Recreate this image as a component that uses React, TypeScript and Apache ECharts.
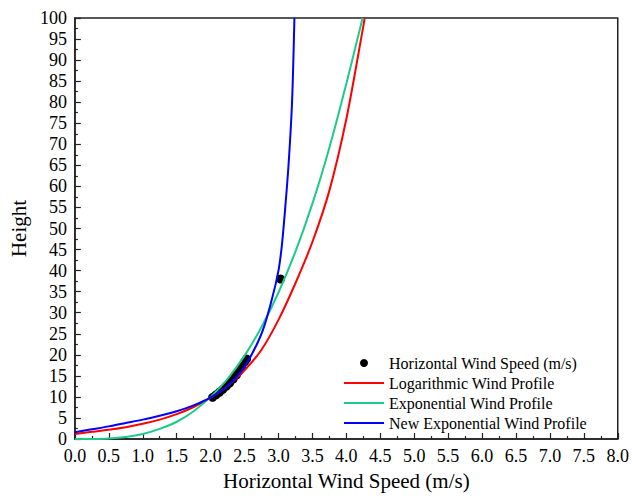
import React, { useEffect, useRef } from "react";
import * as echarts from "echarts";

const xTicks = [0, 0.5, 1, 1.5, 2, 2.5, 3, 3.5, 4, 4.5, 5, 5.5, 6, 6.5, 7, 7.5, 8];

const measuredX = [2.03, 2.08, 2.13, 2.18, 2.23, 2.28, 2.33, 2.38, 2.42, 2.46, 2.5, 2.53, 3.03];
const measuredH = [9.9, 10.5, 11.1, 11.8, 12.5, 13.3, 14.2, 15.2, 16.2, 17.2, 18.3, 19.0, 38.0];

const logX = [0, 0.25, 0.5, 0.75, 1.0, 1.25, 1.5, 1.75, 2.0, 2.25, 2.5, 2.75, 3.0, 3.25, 3.5, 3.75, 4.0, 4.25, 4.27];
const logH = [1.2, 1.7, 2.2, 2.8, 3.6, 4.6, 5.9, 7.6, 9.8, 12.6, 16.3, 21.2, 28.3, 37.0, 46.8, 59.0, 76.0, 98.0, 100];

const expX = [0, 0.25, 0.5, 0.75, 1.0, 1.25, 1.5, 1.75, 2.0, 2.25, 2.5, 2.75, 3.0, 3.25, 3.5, 3.75, 4.0, 4.24];
const expH = [0, 0.02, 0.14, 0.5, 1.2, 2.4, 4.1, 6.6, 10.0, 14.3, 19.8, 26.6, 34.8, 44.5, 55.9, 69.2, 84.4, 100];

const newX = [0, 0.25, 0.5, 0.75, 1.0, 1.25, 1.5, 1.75, 2.0, 2.25, 2.5, 2.75, 2.9, 3.0, 3.05, 3.1, 3.15, 3.2, 3.235];
const newH = [1.6, 2.3, 3.0, 3.8, 4.6, 5.5, 6.6, 8.0, 9.9, 12.6, 17.2, 25.0, 33.0, 40.0, 46.0, 55.0, 65.5, 80.0, 100];

const pairs = (xs: number[], ys: number[]) => xs.map((x, i) => [x, ys[i]]);

const FONT = "'Liberation Serif', 'Times New Roman', serif";
const hideDot = { color: "rgba(0,0,0,0)", opacity: 0, borderWidth: 0 };

export default function App() {
  const ref = useRef<HTMLDivElement>(null);
  useEffect(() => {
    if (!ref.current) return;
    const chart = echarts.init(ref.current, undefined, { renderer: "svg" });
    chart.setOption({
      animation: false,
      backgroundColor: "#ffffff",
      textStyle: { fontFamily: FONT },
      grid: {
        left: 71,
        right: 13,
        top: 18,
        bottom: 52,
        show: true,
        borderColor: "#222",
        borderWidth: 1.5,
      },
      legend: {
        left: 343,
        top: 354,
        padding: 0,
        orient: "vertical",
        itemWidth: 40,
        itemHeight: 8,
        itemGap: 2,
        textStyle: { fontFamily: FONT, fontSize: 16, color: "#000", lineHeight: 18 },
        data: [
          { name: "Horizontal Wind Speed (m/s)", icon: "circle" },
          { name: "Logarithmic Wind Profile", itemStyle: hideDot },
          { name: "Exponential Wind Profile", itemStyle: hideDot },
          { name: "New Exponential Wind Profile", itemStyle: hideDot },
        ],
      },
      xAxis: {
        type: "value",
        min: xTicks[0],
        max: xTicks[xTicks.length - 1],
        interval: 0.5,
        name: "Horizontal Wind Speed (m/s)",
        nameLocation: "middle",
        nameGap: 31,
        nameTextStyle: { fontFamily: FONT, fontSize: 21, color: "#000" },
        axisLine: { show: true, lineStyle: { color: "#222", width: 1.5 } },
        axisTick: { show: true, inside: true, length: 6, lineStyle: { color: "#222", width: 1.2 } },
        minorTick: { show: true, splitNumber: 2, length: 3, lineStyle: { color: "#222", width: 1.2 } },
        splitLine: { show: false },
        axisLabel: {
          fontFamily: FONT,
          fontSize: 18,
          color: "#000",
          margin: 8,
          formatter: (v: number) => v.toFixed(1),
        },
      },
      yAxis: {
        type: "value",
        min: 0,
        max: 100,
        interval: 5,
        name: "Height",
        nameLocation: "middle",
        nameGap: 42,
        nameTextStyle: { fontFamily: FONT, fontSize: 21, color: "#000" },
        axisLine: { show: true, lineStyle: { color: "#222", width: 1.5 } },
        axisTick: { show: true, inside: true, length: 6, lineStyle: { color: "#222", width: 1.2 } },
        minorTick: { show: true, splitNumber: 2, length: 3, lineStyle: { color: "#222", width: 1.2 } },
        splitLine: { show: false },
        axisLabel: { fontFamily: FONT, fontSize: 18, color: "#000", margin: 8 },
      },
      series: [
        {
          name: "Horizontal Wind Speed (m/s)",
          type: "scatter",
          symbol: "circle",
          symbolSize: 9,
          itemStyle: { color: "#000", opacity: 1 },
          data: pairs(measuredX, measuredH),
        },
        {
          name: "Logarithmic Wind Profile",
          type: "line",
          symbol: "none",
          smooth: 0.3,
          clip: true,
          lineStyle: { color: "#ff0000", width: 2 },
          itemStyle: { color: "#ff0000" },
          data: pairs(logX, logH),
        },
        {
          name: "Exponential Wind Profile",
          type: "line",
          symbol: "none",
          smooth: 0.3,
          clip: true,
          lineStyle: { color: "#1ccb88", width: 2 },
          itemStyle: { color: "#1ccb88" },
          data: pairs(expX, expH),
        },
        {
          name: "New Exponential Wind Profile",
          type: "line",
          symbol: "none",
          smooth: 0.3,
          clip: true,
          lineStyle: { color: "#0000ff", width: 2 },
          itemStyle: { color: "#0000ff" },
          data: pairs(newX, newH),
        },
      ],
    });
    return () => chart.dispose();
  }, []);
  return (
    <div
      ref={ref}
      style={{ position: "fixed", left: 0, top: 0, width: 632, height: 496, background: "#fff" }}
    />
  );
}
